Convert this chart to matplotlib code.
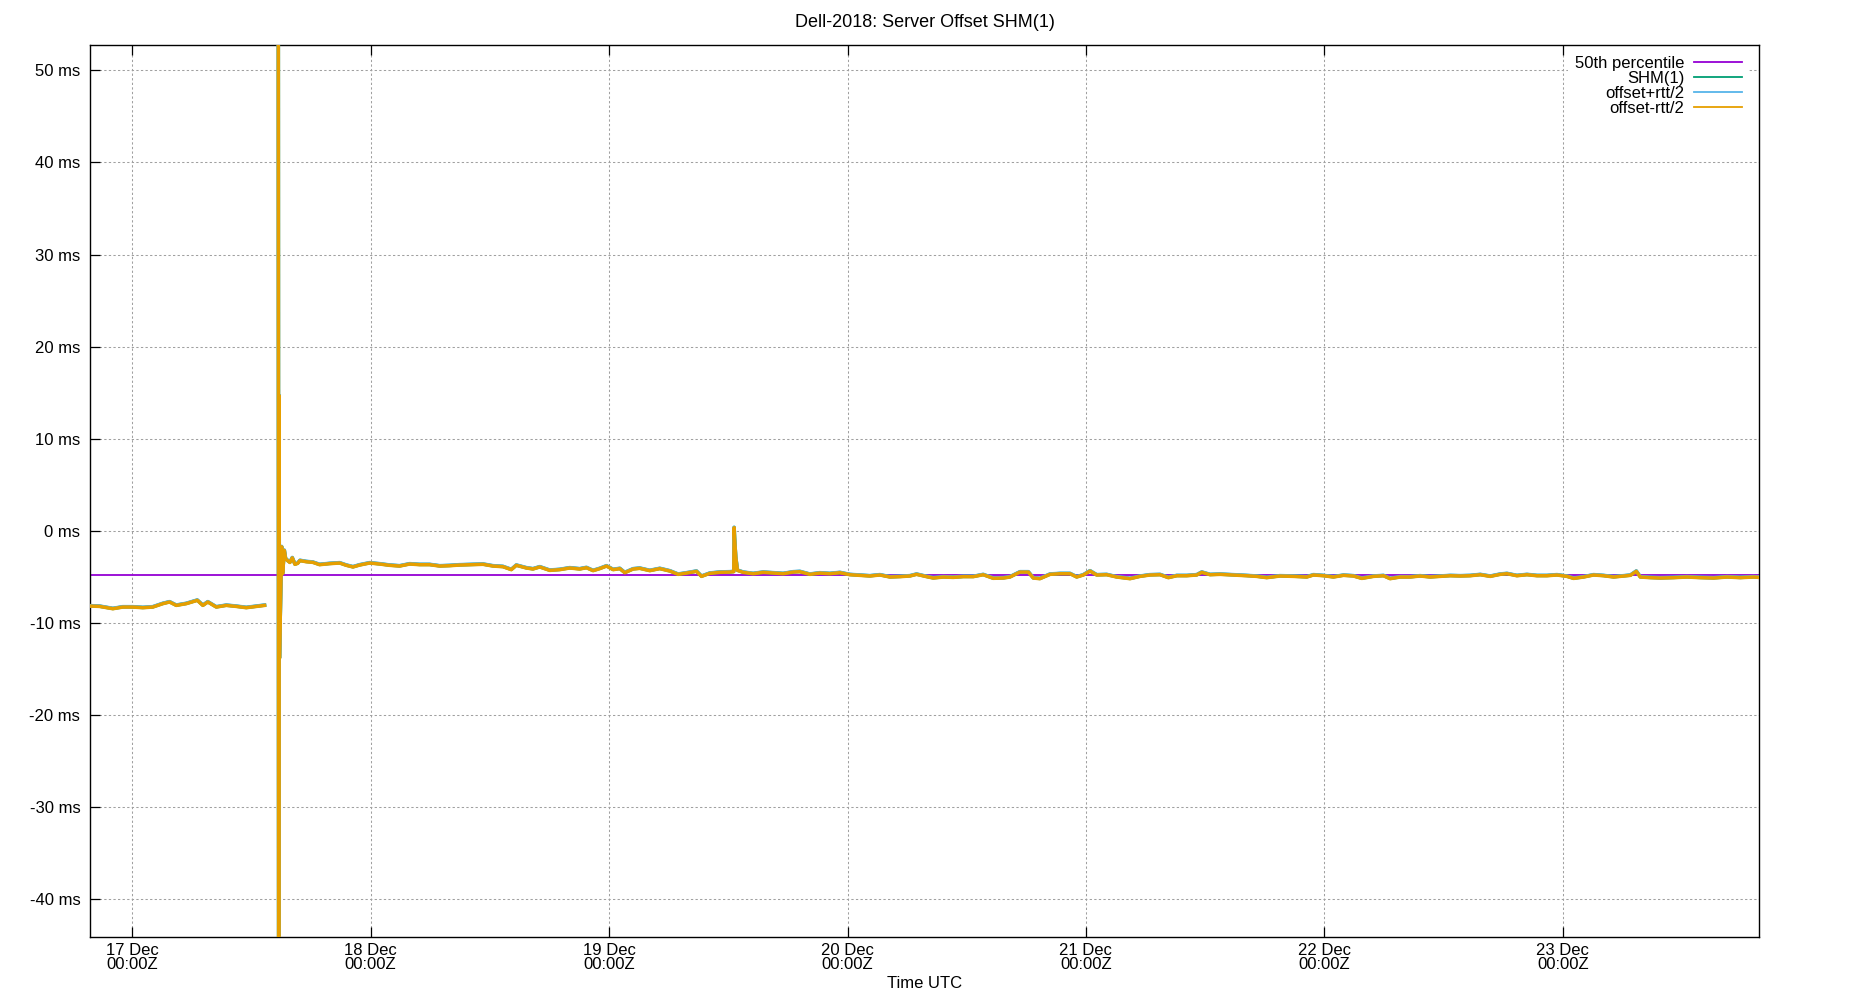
import numpy as np
import pandas as pd
import matplotlib
matplotlib.use("Agg")
import matplotlib.pyplot as plt
import matplotlib.dates as mdates

plt.rcParams['font.family'] = ['Liberation Sans', 'DejaVu Sans']

# hours since 17 Dec 00:00Z, offset in ms
hours = [
    -4.25, -3.29, -1.95, -0.95, 0.06, 1.07, 2.07, 3.08, 3.76, 4.43,
    5.44, 6.55, 7.11, 7.61, 8.46, 9.47, 10.47, 11.48, 12.49, 13.32,
    13.5,
    14.70, 14.74, 14.78, 14.82, 15.04, 15.14, 15.31, 15.44, 15.64,
    15.87, 16.11, 16.38, 16.65, 16.88, 17.52, 18.19, 18.86, 19.87, 20.88,
    21.55, 22.22, 22.89, 23.90, 24.91, 25.91, 26.92, 27.93, 28.93, 29.94,
    30.95, 31.96, 32.96, 34.30, 35.31, 36.32, 37.32, 38.16, 38.66, 39.67,
    40.34, 41.02, 42.03, 43.03, 44.04, 45.05, 45.72, 46.39, 47.06, 47.74,
    48.41, 49.08, 49.58, 50.42, 51.09, 52.10, 53.10, 54.11, 54.95, 55.79,
    56.80, 57.30, 58.14, 59.15, 60.15, 60.55, 60.59, 60.63, 60.75, 60.92,
    61.49, 62.50, 63.51, 64.51, 65.52, 66.53, 67.20, 68.21, 69.21, 70.22,
    71.23, 72.24, 73.24, 74.25, 75.26, 76.27, 77.27, 78.28, 78.95, 79.96,
    80.63, 81.64, 82.64, 83.65, 84.66, 85.66, 86.67, 87.68, 88.35, 89.36,
    90.20, 90.70, 91.37, 92.38, 93.39, 94.40, 95.07, 95.74, 96.41, 97.08,
    98.09, 99.10, 100.44, 101.45, 102.45, 103.46, 104.30, 105.14, 106.15, 107.15,
    107.66, 108.50, 109.50, 110.85, 112.19, 113.19, 114.20, 115.54, 116.89, 118.23,
    118.90, 119.91, 120.91, 121.92, 122.93, 123.77, 124.94, 125.95, 126.62, 127.63,
    128.64, 129.64, 130.65, 131.66, 132.67, 133.67, 134.68, 135.69, 136.70, 137.70,
    138.38, 139.38, 140.39, 141.40, 142.40, 143.41, 144.42, 145.09, 146.09, 147.10,
    148.11, 149.12, 149.79, 150.80, 151.40, 151.80, 152.81, 153.82, 155.16, 156.50,
    157.84, 159.18, 160.53, 161.87, 163.21, 163.75,
]
shm_ms = [
    -8.13, -8.17, -8.42, -8.24, -8.24, -8.31, -8.24, -7.87, -7.69, -8.06,
    -7.87, -7.51, -8.06, -7.69, -8.24, -8.06, -8.17, -8.31, -8.17, -8.06,
    np.nan,
    80.0, -60.0, 14.7, -13.8, -1.7, -4.6, -2.1, -3.0, -3.2,
    -3.4, -2.9, -3.6, -3.5, -3.2, -3.32, -3.39, -3.64, -3.53, -3.46,
    -3.71, -3.89, -3.68, -3.46, -3.57, -3.71, -3.79, -3.57, -3.64, -3.64,
    -3.79, -3.75, -3.68, -3.64, -3.60, -3.79, -3.86, -4.18, -3.71, -4.00,
    -4.11, -3.89, -4.26, -4.18, -4.00, -4.11, -3.97, -4.29, -4.07, -3.79,
    -4.18, -4.07, -4.51, -4.11, -4.04, -4.29, -4.07, -4.33, -4.69, -4.55,
    -4.36, -4.91, -4.58, -4.47, -4.44, -4.40, 0.38, -0.71, -2.81, -4.26,
    -4.47, -4.62, -4.47, -4.55, -4.62, -4.44, -4.40, -4.69, -4.55, -4.62,
    -4.51, -4.73, -4.80, -4.87, -4.76, -4.98, -4.94, -4.87, -4.69, -4.94,
    -5.09, -4.98, -5.02, -4.94, -4.94, -4.73, -5.12, -5.09, -4.98, -4.44,
    -4.44, -5.09, -5.16, -4.69, -4.62, -4.62, -4.98, -4.76, -4.33, -4.76,
    -4.73, -4.98, -5.16, -4.91, -4.76, -4.73, -5.05, -4.84, -4.84, -4.76,
    -4.47, -4.73, -4.69, -4.76, -4.84, -4.91, -5.05, -4.87, -4.91, -4.98,
    -4.76, -4.84, -4.98, -4.80, -4.87, -5.13, -4.91, -4.84, -5.16, -4.98,
    -4.98, -4.87, -4.98, -4.91, -4.84, -4.87, -4.84, -4.73, -4.91, -4.69,
    -4.62, -4.84, -4.73, -4.84, -4.84, -4.76, -4.91, -5.13, -4.98, -4.76,
    -4.84, -4.98, -4.91, -4.80, -4.36, -4.98, -5.05, -5.09, -5.05, -4.98,
    -5.05, -5.09, -4.98, -5.05, -4.98, -5.02,
]
rtt_ms = 0.05
p50_ms = -4.77

yticks = [-40, -30, -20, -10, 0, 10, 20, 30, 40, 50]

start = pd.Timestamp("2018-12-17 00:00")
times = start + pd.to_timedelta(hours, unit="h")
shm = np.array(shm_ms)
off_hi = shm + rtt_ms / 2
off_lo = shm - rtt_ms / 2

W, H = 1850, 1000
fig = plt.figure(figsize=(W / 100, H / 100), dpi=100)
l, r, t, b = 90, 1759, 45.3, 936.5
ax = fig.add_axes([l / W, 1 - b / H, (r - l) / W, (b - t) / H])

ax.axhline(p50_ms, color="#9400d3", lw=1.3, label="50th percentile", zorder=2)
ax.plot(times, shm, color="#009e73", lw=2.5, label="SHM(1)", zorder=3)
ax.plot(times, off_hi, color="#56b4e9", lw=2.5, label="offset+rtt/2", zorder=4)
ax.plot(times, off_lo, color="#e69f00", lw=2.5, label="offset-rtt/2", zorder=5)

ax.set_xlim(times[0], times[-1])
ax.set_ylim(-44.02, 52.71)
ax.set_yticks(yticks)
ax.set_yticklabels([f"{v} ms" for v in yticks])
ax.xaxis.set_major_locator(mdates.DayLocator())
ax.xaxis.set_major_formatter(mdates.DateFormatter("%d %b\n%H:%MZ"))
for lab in ax.get_xticklabels():
    lab.set_horizontalalignment("center")
    lab.set_linespacing(0.95)

ax.tick_params(axis="both", direction="in", length=7.2, width=0.9, labelsize=12,
               colors="black")
ax.tick_params(axis="x", top=True, bottom=True, pad=4.5)
ax.tick_params(axis="y", left=True, right=False, pad=7)
for s in ax.spines.values():
    s.set_linewidth(1.0)

ax.grid(True, color="#a0a0a0", lw=0.75, linestyle=(0, (2.2, 2.2)))
ax.set_axisbelow(True)

ax.set_title("Dell-2018: Server Offset SHM(1)", fontsize=13, pad=13)
ax.set_xlabel("Time UTC", fontsize=12, labelpad=3)

leg = ax.legend(loc="upper right", bbox_to_anchor=(0.9938, 0.9955),
                markerfirst=False, fontsize=12,
                handlelength=2.9, handletextpad=0.55, labelspacing=0.0,
                borderpad=0.4, borderaxespad=0.0, frameon=True, fancybox=False,
                framealpha=1, edgecolor="none")
for h in leg.get_lines():
    h.set_linewidth(1.3)
for txt in leg.get_texts():
    txt.set_horizontalalignment("right")
leg._legend_box.align = "right"

fig.savefig("out.png", dpi=100)
